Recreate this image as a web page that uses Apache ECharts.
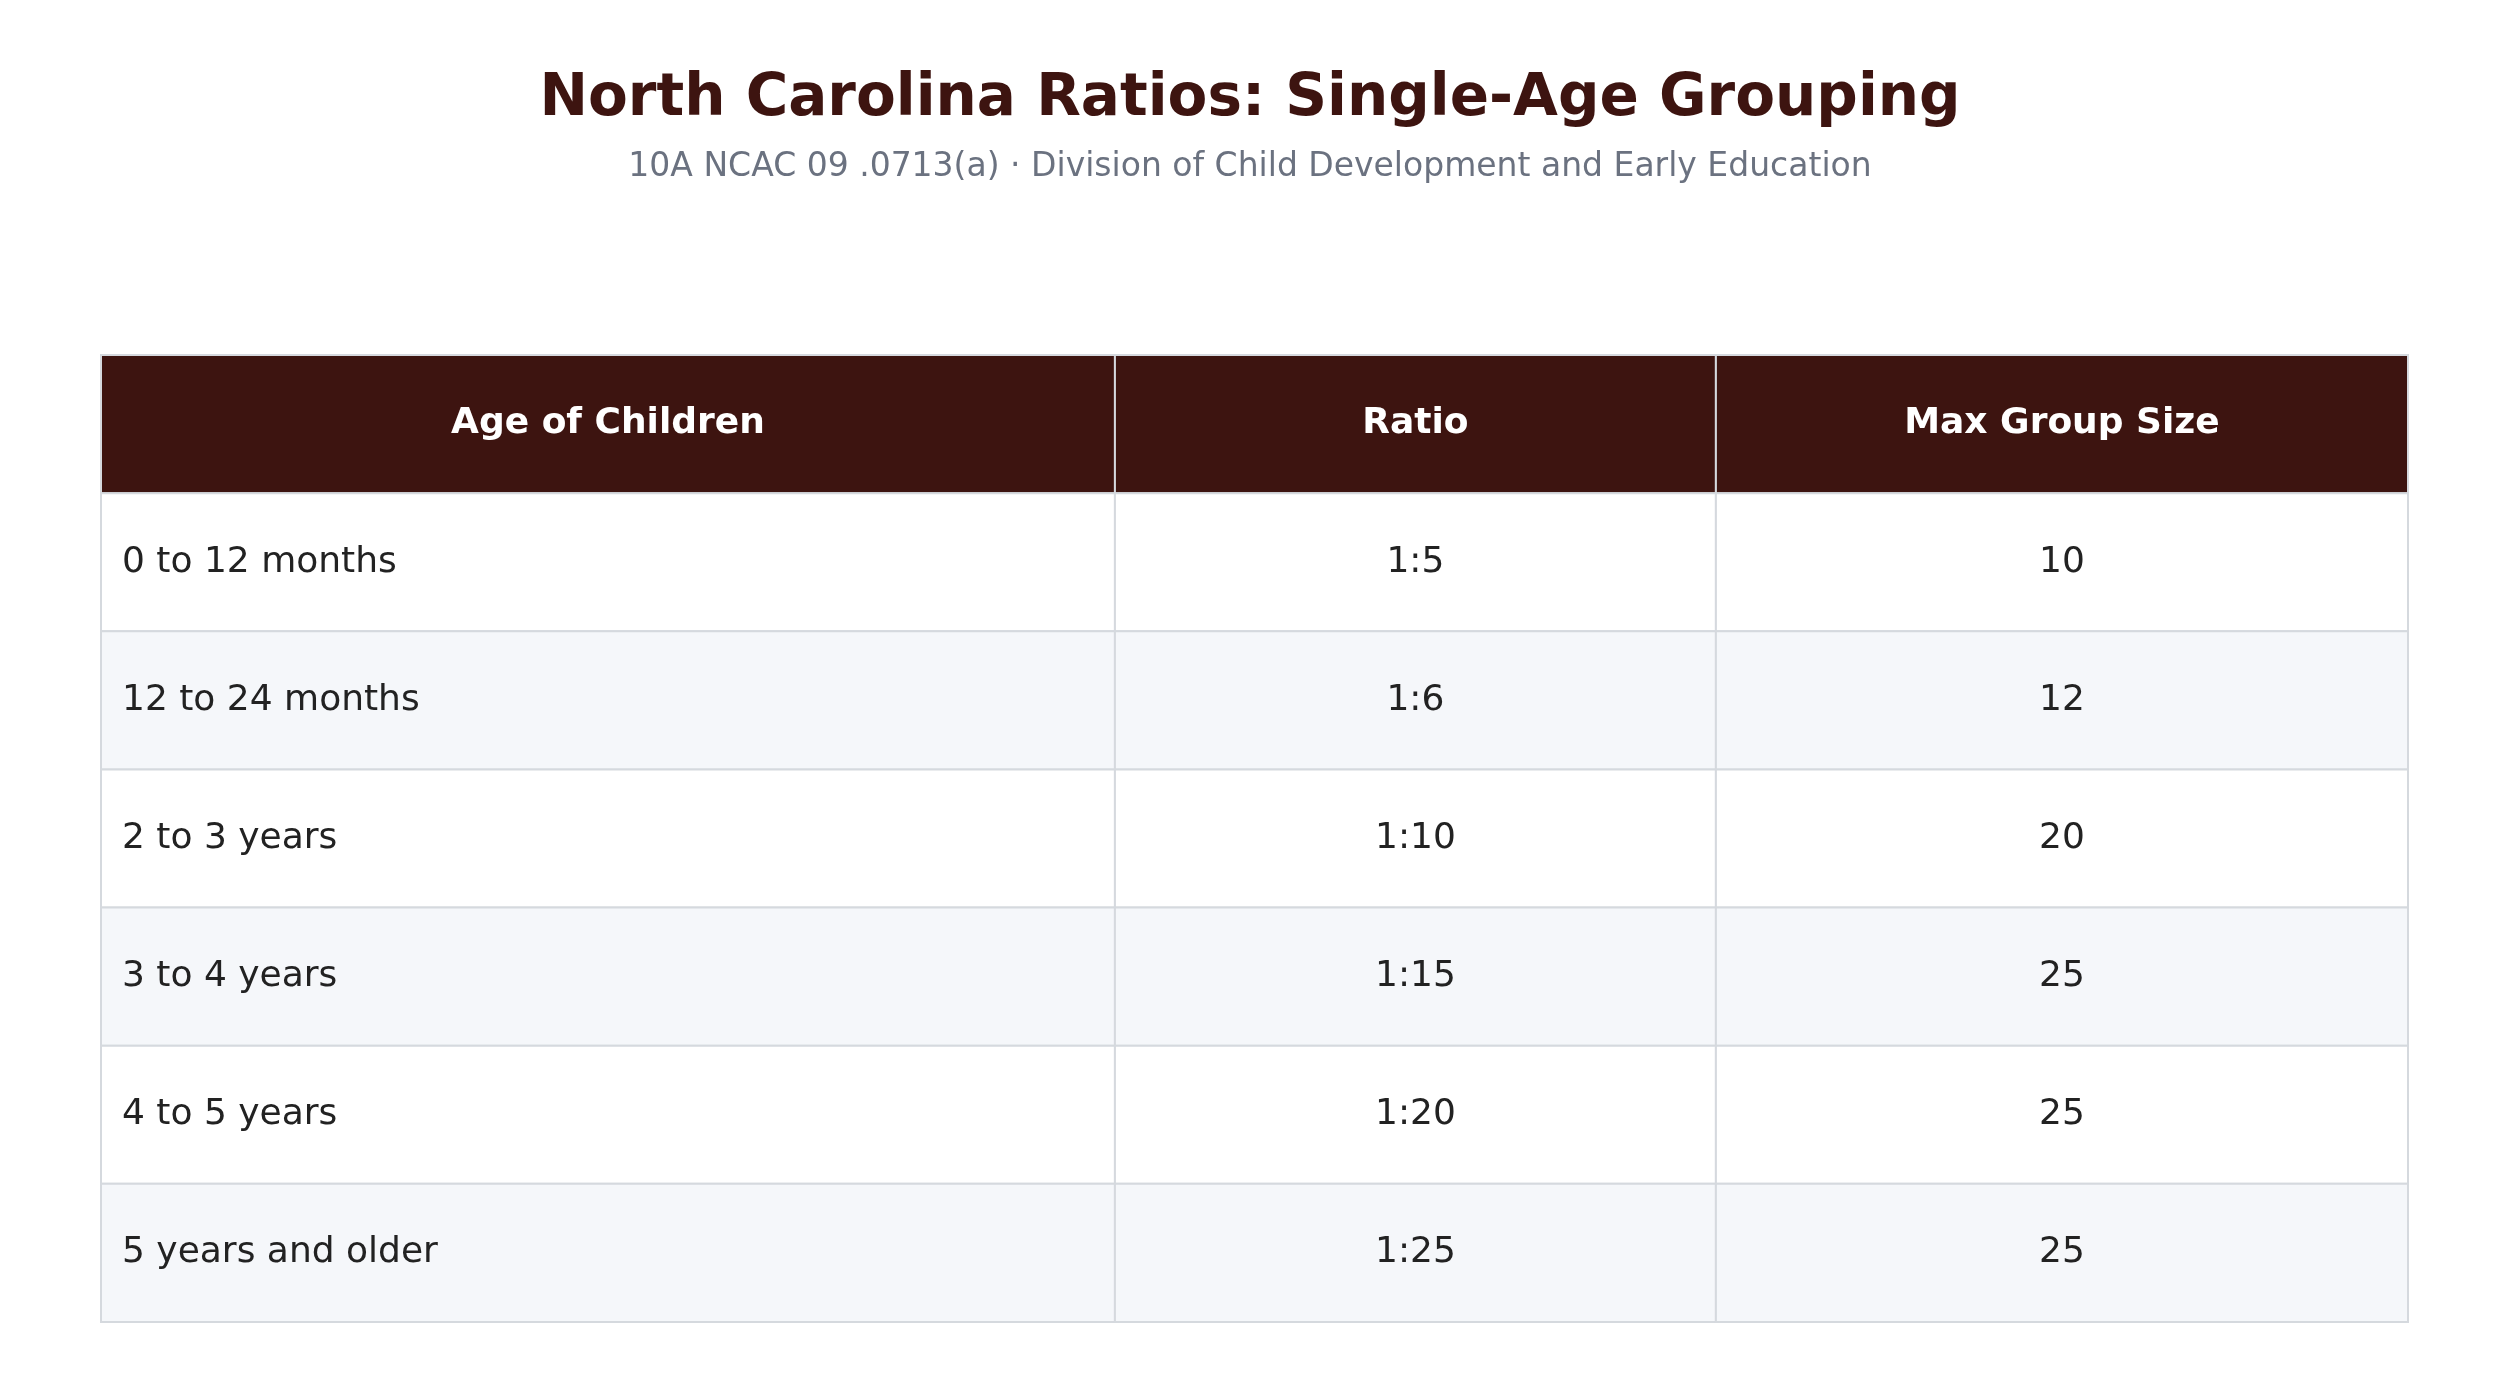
<!DOCTYPE html>
<html>
<head>
<meta charset="utf-8">
<script src="https://cdn.jsdelivr.net/npm/echarts@6/dist/echarts.min.js"></script>
<style>
  html, body { margin: 0; padding: 0; background: #fff; }
  #chart { width: 2500px; height: 1396px; }
</style>
</head>
<body>
<div id="chart"></div>
<script>
// ===== 数据 =====
const headers = ['Age of Children', 'Ratio', 'Max Group Size']
const ages = ['0 to 12 months', '12 to 24 months', '2 to 3 years', '3 to 4 years', '4 to 5 years', '5 years and older']
const ratios = ['1:5', '1:6', '1:10', '1:15', '1:20', '1:25']
const groupSizes = ['10', '12', '20', '25', '25', '25']
// 列边界（占表格宽度的比例）
const colEdges = [0, 0.4395, 0.7, 1]

const FONT = '"DejaVu Sans", sans-serif'
const HEADER_BG = '#3d1410'
const BORDER = '#d5d9de'

// ===== 单元格 =====
const cells = []
headers.forEach((h, c) => cells.push([c, 0, h]))
ages.forEach((a, r) => {
  cells.push([0, r + 1, a])
  cells.push([1, r + 1, ratios[r]])
  cells.push([2, r + 1, groupSizes[r]])
})

function renderItem(params, api) {
  const col = api.value(0)
  const row = api.value(1)
  const text = cells[params.dataIndex][2]
  const p0 = api.coord([colEdges[col], row])
  const p1 = api.coord([colEdges[col + 1], row + 1])
  const x = p0[0], y = p0[1], w = p1[0] - p0[0], h = p1[1] - p0[1]
  const isHeader = row === 0
  const fill = isHeader ? HEADER_BG : (row % 2 === 0 ? '#f5f7fa' : '#ffffff')
  const leftAlign = !isHeader && col === 0
  return {
    type: 'group',
    children: [
      {
        type: 'rect',
        shape: { x, y, width: w, height: h },
        style: { fill, stroke: BORDER, lineWidth: 2 },
      },
      {
        type: 'text',
        style: {
          text,
          x: leftAlign ? x + 21 : x + w / 2,
          y: y + h / 2,
          align: leftAlign ? 'left' : 'center',
          verticalAlign: 'middle',
          font: (isHeader ? 'bold ' : '') + '36px ' + FONT,
          fill: isHeader ? '#ffffff' : '#222222',
        },
      },
    ],
  }
}

const chart = echarts.init(document.getElementById('chart'))
chart.setOption({
  animation: false,
  title: {
    text: 'North Carolina Ratios: Single-Age Grouping',
    subtext: '10A NCAC 09 .0713(a) · Division of Child Development and Early Education',
    left: 'center',
    top: 66,
    itemGap: 22,
    textStyle: { fontFamily: FONT, fontSize: 58, fontWeight: 'bold', color: HEADER_BG },
    subtextStyle: { fontFamily: FONT, fontSize: 33, color: '#6b7280' },
  },
  grid: { left: 101, right: 92, top: 355, bottom: 74 },
  xAxis: { type: 'value', min: 0, max: 1, show: false },
  yAxis: { type: 'value', min: 0, max: 7, inverse: true, show: false },
  series: [{
    type: 'custom',
    renderItem,
    data: cells.map(c => [c[0], c[1]]),
  }],
})
</script>
</body>
</html>
